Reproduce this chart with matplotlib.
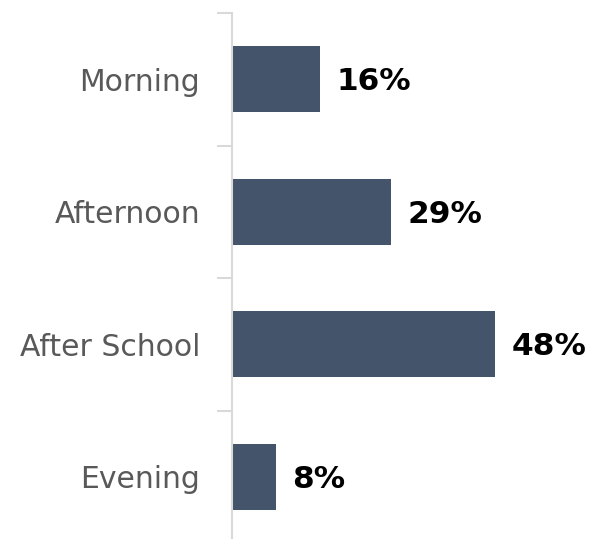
import matplotlib.pyplot as plt
import numpy as np

categories = ['Morning', 'Afternoon', 'After School', 'Evening']
values = [16, 29, 48, 8]
labels = ['16%', '29%', '48%', '8%']

fig = plt.figure(figsize=(5.9, 5.39), dpi=100)
ax = fig.add_axes([232/590, -4/539, 1 - 232/590, 530/539])

y = np.arange(len(categories))
ax.barh(y, values, height=0.5, color='#44546a')
ax.set_ylim(len(categories) - 0.5, -0.5)
ax.set_xlim(0, 65.3)

for yi, v, lab in zip(y, values, labels):
    ax.text(v + 3.0, yi + 0.02, lab, va='center', ha='left',
            fontsize=22.5, fontweight='bold', color='black', family='DejaVu Sans')

ax.set_yticks(y)
ax.set_yticklabels(categories, fontsize=21.5, color='#595959', family='DejaVu Sans')
ax.set_yticks(np.arange(-0.5, len(categories), 1), minor=True)
ax.tick_params(axis='y', which='major', length=0, pad=23)
ax.tick_params(axis='y', which='minor', length=11, width=1.5, color='#d9d9d9')
ax.set_xticks([])

for s in ['top', 'right', 'bottom']:
    ax.spines[s].set_visible(False)
ax.spines['left'].set_color('#d9d9d9')
ax.spines['left'].set_linewidth(1.5)

fig.savefig('out.png', dpi=100)
